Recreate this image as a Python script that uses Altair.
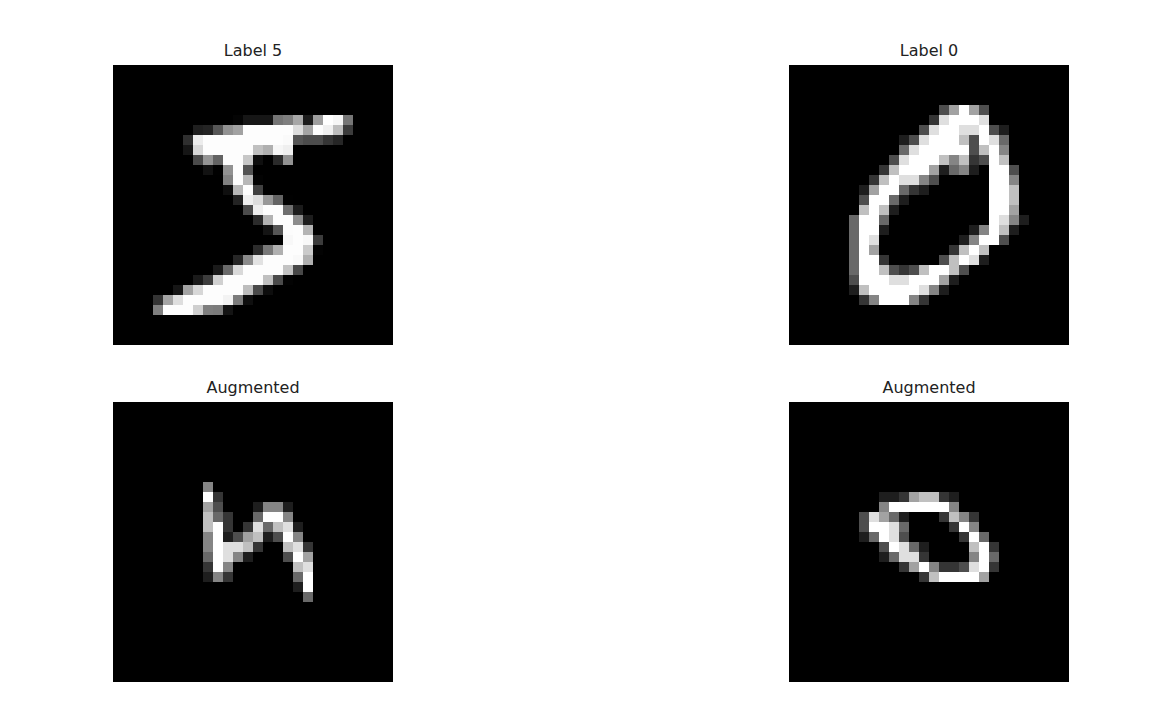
import altair as alt
import pandas as pd

titles = ["Label 5", "Label 0", "Augmented", "Augmented"]

# image 1: pixel values 0-255, rows as (row, start_col, values)
img_5 = [
    (5, 12, [3,18,18,18,126,136,175,26,166,255,247,127]),
    (6, 8, [30,36,94,154,170,253,253,253,253,253,225,172,253,242,195,64]),
    (7, 7, [49,238,253,253,253,253,253,253,253,253,251,93,82,82,56,39]),
    (8, 7, [18,219,253,253,253,253,253,198,182,247,241]),
    (9, 8, [80,156,107,253,253,205,11,0,43,154]),
    (10, 9, [14,1,154,253,90]),
    (11, 11, [139,253,190,2]),
    (12, 11, [11,190,253,70]),
    (13, 12, [35,241,225,160,108,1]),
    (14, 13, [81,240,253,253,119,25]),
    (15, 14, [45,186,253,253,150,27]),
    (16, 15, [16,93,252,253,187]),
    (17, 17, [249,253,249,64]),
    (18, 14, [46,130,183,253,253,207,2]),
    (19, 12, [39,148,229,253,253,253,250,182]),
    (20, 10, [24,114,221,253,253,253,253,201,78]),
    (21, 8, [23,66,213,253,253,253,253,198,81,2]),
    (22, 6, [18,171,219,253,253,253,253,195,80,9]),
    (23, 4, [55,172,226,253,253,253,253,244,133,11]),
    (24, 4, [136,253,253,253,212,135,132,16]),
]

# images 2-4: brightness levels 0-9
img_0 = [
    (4, 15, [3,6,9,6,3]),
    (5, 14, [2,8,9,9,9,8]),
    (6, 13, [3,8,9,9,8,8,9,3,1]),
    (7, 11, [1,3,8,9,9,9,7,3,9,8,4]),
    (8, 11, [4,8,9,9,9,9,9,3,7,9,5]),
    (9, 10, [3,8,9,9,9,7,5,7,2,3,9,7]),
    (10, 9, [2,7,9,9,9,6,1,4,5,1,0,9,9,3]),
    (11, 8, [2,7,9,8,8,5,3,0,0,0,0,0,9,9,5]),
    (12, 7, [1,6,9,9,4,2,1,0,0,0,0,0,0,9,9,7]),
    (13, 7, [3,9,9,4,1,0,0,0,0,0,0,0,0,9,9,7]),
    (14, 7, [7,9,7,1,0,0,0,0,0,0,0,0,0,9,9,6]),
    (15, 6, [4,9,9,4,0,0,0,0,0,0,0,0,0,0,9,8,5,1]),
    (16, 6, [4,9,9,1,0,0,0,0,0,0,0,0,1,5,9,7,1]),
    (17, 6, [4,9,8,0,0,0,0,0,0,0,0,1,5,9,9,3]),
    (18, 6, [4,9,6,0,0,0,0,0,0,0,2,7,9,7]),
    (19, 6, [4,9,9,2,0,0,0,0,0,3,7,9,8,1]),
    (20, 6, [4,9,9,7,3,2,3,7,9,9,7,3]),
    (21, 6, [3,9,9,9,8,8,9,9,9,6,1]),
    (22, 6, [1,7,9,9,9,9,9,8,5,1]),
    (23, 7, [2,5,9,9,9,5,2]),
]
aug_5 = [
    (8, 9, [5]),
    (9, 9, [9,2]),
    (10, 9, [6,3,0,0,0,1,5,5,1]),
    (11, 9, [7,4,2,0,0,4,9,9,5]),
    (12, 9, [7,9,2,0,2,8,4,7,8,1]),
    (13, 9, [5,9,1,3,6,7,1,3,9,5]),
    (14, 9, [5,9,8,8,7,2,0,0,7,8,2]),
    (15, 9, [4,9,8,5,1,0,0,0,3,9,6]),
    (16, 9, [2,9,5,0,0,0,0,0,0,7,8]),
    (17, 9, [1,5,2,0,0,0,0,0,0,4,9]),
    (18, 18, [1,9]),
    (19, 19, [4]),
]
aug_0 = [
    (9, 9, [1,1,2,6,7,7,2,1]),
    (10, 9, [5,9,9,9,9,9,9,5]),
    (11, 7, [3,8,6,4,1,0,0,0,2,7,5,2]),
    (12, 7, [3,9,9,8,4,0,0,0,0,2,9,5]),
    (13, 7, [1,4,9,8,3,0,0,0,0,0,2,9,4]),
    (14, 9, [3,9,8,4,1,0,0,0,0,7,9,2]),
    (15, 9, [1,4,8,8,2,0,0,0,0,5,9,4]),
    (16, 11, [2,6,9,5,2,2,3,8,9,2]),
    (17, 13, [2,7,9,9,9,9,6]),
]

def to_df(rows, scale):
    grid = [[0.0] * 28 for _ in range(28)]
    for r, c0, vals in rows:
        for i, v in enumerate(vals):
            grid[r][c0 + i] = v * scale
    return pd.DataFrame([{"row": r, "col": c, "v": grid[r][c]} for r in range(28) for c in range(28)])

dfs = [to_df(img_5, 1), to_df(img_0, 255 / 9), to_df(aug_5, 255 / 9), to_df(aug_0, 255 / 9)]

def panel(df, title):
    return alt.Chart(df, title=alt.TitleParams(title, fontSize=16, font="DejaVu Sans",
                                                fontWeight="normal", color="#222", offset=6)).mark_rect().encode(
        x=alt.X("col:O", axis=None, scale=alt.Scale(paddingInner=0, paddingOuter=0)),
        y=alt.Y("row:O", axis=None, scale=alt.Scale(paddingInner=0, paddingOuter=0)),
        color=alt.Color("v:Q", scale=alt.Scale(domain=[0, 255], range=["black", "white"]), legend=None),
    ).properties(width=280, height=280)

top = alt.hconcat(panel(dfs[0], titles[0]), panel(dfs[1], titles[1]), spacing=396)
bot = alt.hconcat(panel(dfs[2], titles[2]), panel(dfs[3], titles[3]), spacing=396)
chart = alt.vconcat(top, bot, spacing=35).properties(
    padding={"left": 105, "top": 35, "right": 5, "bottom": 5}
).configure_view(stroke=None, fill="black")

chart.save("out.html", embed_options={"renderer": "svg", "actions": False})
